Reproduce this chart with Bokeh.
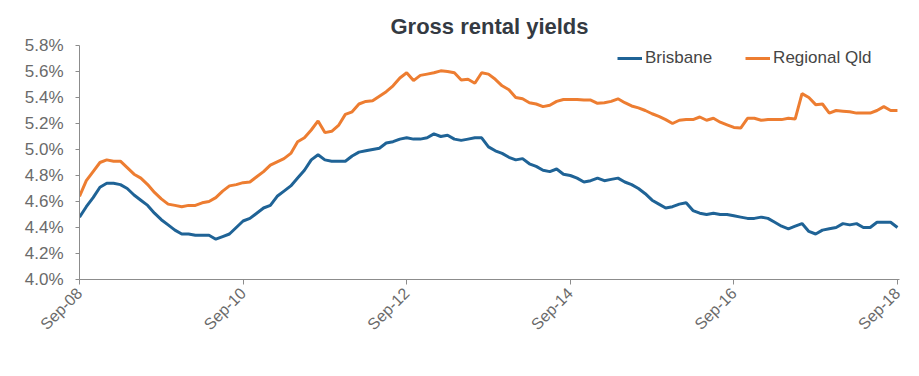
import math
from bokeh.plotting import figure
from bokeh.models import FixedTicker, PrintfTickFormatter, Range1d, Legend, LegendItem
from bokeh.embed import file_html
from bokeh.resources import INLINE

# monthly, Sep-08 .. Sep-18 (121 months)
months = list(range(121))
tick_positions = [0, 24, 48, 72, 96, 120]
tick_labels = ["Sep-08", "Sep-10", "Sep-12", "Sep-14", "Sep-16", "Sep-18"]

brisbane = [
    4.48, 4.56, 4.63, 4.71, 4.74, 4.74, 4.73, 4.70, 4.65, 4.61,
    4.57, 4.51, 4.46, 4.42, 4.38, 4.35, 4.35, 4.34, 4.34, 4.34,
    4.31, 4.33, 4.35, 4.40, 4.45, 4.47, 4.51, 4.55, 4.57, 4.64,
    4.68, 4.72, 4.78, 4.84, 4.92, 4.96, 4.92, 4.91, 4.91, 4.91,
    4.95, 4.98, 4.99, 5.00, 5.01, 5.05, 5.06, 5.08, 5.09, 5.08,
    5.08, 5.09, 5.12, 5.10, 5.11, 5.08, 5.07, 5.08, 5.09, 5.09,
    5.02, 4.99, 4.97, 4.94, 4.92, 4.93, 4.89, 4.87, 4.84, 4.83,
    4.85, 4.81, 4.80, 4.78, 4.75, 4.76, 4.78, 4.76, 4.77, 4.78,
    4.75, 4.73, 4.70, 4.66, 4.61, 4.58, 4.55, 4.56, 4.58, 4.59,
    4.53, 4.51, 4.50, 4.51, 4.50, 4.50, 4.49, 4.48, 4.47, 4.47,
    4.48, 4.47, 4.44, 4.41, 4.39, 4.41, 4.43, 4.37, 4.35, 4.38,
    4.39, 4.40, 4.43, 4.42, 4.43, 4.40, 4.40, 4.44, 4.44, 4.44,
    4.40,
]

regional_qld = [
    4.64, 4.76, 4.83, 4.90, 4.92, 4.91, 4.91, 4.86, 4.81, 4.78,
    4.73, 4.67, 4.62, 4.58, 4.57, 4.56, 4.57, 4.57, 4.59, 4.60,
    4.63, 4.68, 4.72, 4.73, 4.745, 4.75, 4.79, 4.83, 4.88, 4.905,
    4.93, 4.97, 5.06, 5.09, 5.15, 5.22, 5.13, 5.14, 5.185, 5.27,
    5.29, 5.35, 5.37, 5.375, 5.41, 5.445, 5.49, 5.55, 5.59, 5.53,
    5.57, 5.58, 5.59, 5.605, 5.60, 5.59, 5.535, 5.54, 5.51, 5.59,
    5.58, 5.54, 5.49, 5.46, 5.40, 5.39, 5.36, 5.35, 5.33, 5.34,
    5.37, 5.385, 5.385, 5.385, 5.38, 5.38, 5.355, 5.36, 5.37, 5.39,
    5.36, 5.335, 5.32, 5.30, 5.275, 5.255, 5.23, 5.20, 5.225, 5.23,
    5.23, 5.25, 5.225, 5.24, 5.21, 5.19, 5.17, 5.165, 5.24, 5.24,
    5.225, 5.23, 5.23, 5.23, 5.24, 5.235, 5.43, 5.40, 5.345, 5.35,
    5.28, 5.30, 5.295, 5.29, 5.28, 5.28, 5.28, 5.30, 5.33, 5.30,
    5.30,
]

FONT = "Liberation Sans"
GREY = "#6a6a6a"
AXIS = "#8c8c8c"
BLUE = "#1f6396"
ORANGE = "#ed7d31"

p = figure(width=919, height=376, output_backend="svg", toolbar_location=None,
           x_range=Range1d(0, 120.3), y_range=Range1d(4.0, 5.8),
           min_border_left=79, min_border_right=20, min_border_top=45,
           min_border_bottom=97)

p.title.text = "Gross rental yields"
p.title.align = "center"
p.title.offset = -12
p.title.standoff = 13
p.title.text_font = FONT
p.title.text_font_size = "22px"
p.title.text_font_style = "bold"
p.title.text_color = "#343a42"

p.outline_line_color = None
p.xgrid.visible = False
p.ygrid.visible = False

r1 = p.line(months, brisbane, line_color=BLUE, line_width=3)
r2 = p.line(months, regional_qld, line_color=ORANGE, line_width=3)

legend = Legend(items=[LegendItem(label="Brisbane", renderers=[r1]),
                       LegendItem(label="Regional Qld", renderers=[r2])],
                orientation="horizontal",
                border_line_color=None, background_fill_alpha=0,
                label_text_font=FONT, label_text_font_size="17px",
                label_text_color="#454545", glyph_width=25, label_standoff=3,
                spacing=33, padding=0, margin=0)
legend.location = (538, 211)
p.add_layout(legend)

# x axis
p.xaxis.ticker = FixedTicker(ticks=tick_positions)
p.xaxis.major_label_overrides = {t: l for t, l in zip(tick_positions, tick_labels)}
p.xaxis.major_label_orientation = math.pi / 4
p.xaxis.minor_tick_line_color = None
p.xaxis.major_tick_in = 0
p.xaxis.major_tick_out = 5
p.xaxis.axis_line_color = AXIS
p.xaxis.major_tick_line_color = AXIS
p.xaxis.major_label_text_font = FONT
p.xaxis.major_label_text_font_size = "16px"
p.xaxis.major_label_text_color = GREY
p.xaxis.major_label_standoff = 6

# y axis
p.yaxis.ticker = FixedTicker(ticks=[4.0 + 0.2 * k for k in range(10)])
p.yaxis.formatter = PrintfTickFormatter(format="%.1f%%")
p.yaxis.minor_tick_line_color = None
p.yaxis.major_tick_in = 0
p.yaxis.major_tick_out = 4
p.yaxis.axis_line_color = AXIS
p.yaxis.major_tick_line_color = AXIS
p.yaxis.major_label_text_font = FONT
p.yaxis.major_label_text_font_size = "17px"
p.yaxis.major_label_text_color = GREY
p.yaxis.major_label_standoff = 12

open("out.html", "w").write(file_html(p, INLINE))
